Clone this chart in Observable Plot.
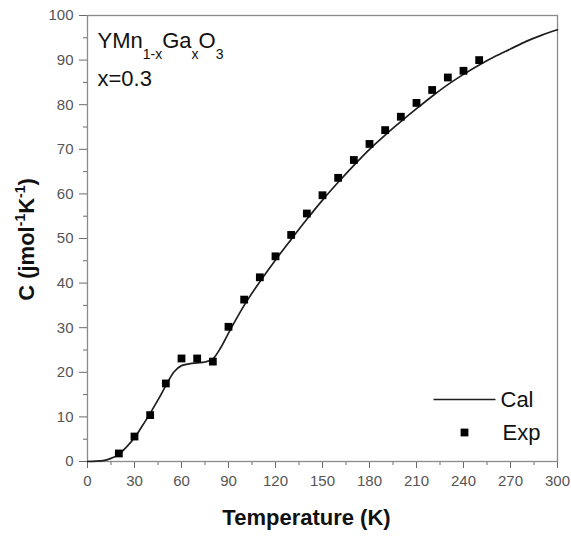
<!DOCTYPE html>
<html>
<head>
<meta charset="utf-8">
<script src="https://cdn.jsdelivr.net/npm/d3@7"></script>
<script src="https://cdn.jsdelivr.net/npm/@observablehq/plot@0.6"></script>
<style>
  html, body { margin: 0; padding: 0; background: #fff; }
</style>
</head>
<body>
<div id="chart"></div>
<script>
// Experimental points (Exp)
const expT = [20, 30, 40, 50, 60, 70, 80, 90, 100, 110, 120, 130, 140, 150, 160, 170, 180, 190, 200, 210, 220, 230, 240, 250];
const expC = [1.8, 5.6, 10.4, 17.5, 23.1, 23.1, 22.4, 30.2, 36.3, 41.3, 46.0, 50.8, 55.6, 59.7, 63.6, 67.6, 71.2, 74.3, 77.3, 80.4, 83.3, 86.1, 87.6, 90.0];

// Calculated curve (Cal)
const calT = [0, 10, 15, 20, 25, 30, 35, 40, 45, 50, 55, 60, 65, 70, 75, 80, 85, 90, 100, 110, 120, 130, 140, 150, 160, 170, 180, 190, 200, 210, 220, 230, 240, 250, 260, 270, 280, 290, 300];
const calC = [0, 0.2, 0.7, 1.6, 3.3, 5.3, 8.0, 10.8, 13.8, 17.0, 20.0, 21.5, 21.9, 22.1, 22.3, 23.0, 25.5, 28.8, 35.0, 40.3, 45.2, 49.8, 54.3, 58.6, 62.6, 66.4, 70.0, 73.2, 76.2, 79.1, 81.9, 84.5, 86.8, 88.9, 90.8, 92.5, 94.2, 95.6, 96.8];

// Tick values
const xTicks = [0, 30, 60, 90, 120, 150, 180, 210, 240, 270, 300];
const xMinor = [15, 45, 75, 105, 135, 165, 195, 225, 255, 285];
const yTicks = [0, 10, 20, 30, 40, 50, 60, 70, 80, 90, 100];
const yMinor = [5, 15, 25, 35, 45, 55, 65, 75, 85, 95];

// Texts
const xTitle = "Temperature (K)";
const yTitle = "C (jmol-1K-1)";
const compound = "YMn1-xGaxO3";
const composition = "x=0.3";
const legendNames = ["Cal", "Exp"];

const expData = expT.map((t, i) => ({t, c: expC[i]}));
const calData = calT.map((t, i) => ({t, c: calC[i]}));

const lineSymbol = {
  draw(ctx) { ctx.moveTo(-31, 0); ctx.lineTo(31, 0); }
};

const axisColor = "#6a6a6a";
const labelColor = "#555";

const chart = Plot.plot({
  width: 571,
  height: 536,
  marginLeft: 87,
  marginRight: 14,
  marginTop: 15,
  marginBottom: 75,
  style: {fontFamily: "'Liberation Sans', Arial, sans-serif", background: "#fff", overflow: "visible"},
  x: {domain: [0, 300]},
  y: {domain: [0, 100]},
  marks: [
    Plot.axisX({ticks: xTicks, tickSize: 7, tickPadding: 7, fontSize: 15, stroke: axisColor, fill: labelColor, label: null}),
    Plot.axisX({ticks: xMinor, tickSize: 4, text: null, stroke: axisColor, label: null}),
    Plot.axisY({ticks: yTicks, tickSize: 8, tickPadding: 6, fontSize: 15, stroke: axisColor, fill: labelColor, label: null}),
    Plot.axisY({ticks: yMinor, tickSize: 4, text: null, stroke: axisColor, label: null}),
    Plot.frame({stroke: "#8a8a8a", strokeWidth: 1.3}),
    Plot.line(calData, {x: "t", y: "c", curve: "monotone-x", stroke: "#1e1e1e", strokeWidth: 1.7}),
    Plot.dot(expData, {x: "t", y: "c", symbol: "square", r: 4.4, fill: "#000"}),
    // annotation
    Plot.text([compound], {frameAnchor: "top-left", dx: 10, dy: 17, textAnchor: "start", lineAnchor: "top", fontSize: 22, fill: "#111"}),
    Plot.text([composition], {frameAnchor: "top-left", dx: 10, dy: 55, textAnchor: "start", lineAnchor: "top", fontSize: 22, fill: "#111"}),
    // legend
    Plot.dot([legendNames[0]], {frameAnchor: "bottom-right", dx: -93, dy: -62, symbol: lineSymbol, stroke: "#1e1e1e", strokeWidth: 1.7, fill: "none"}),
    Plot.text([legendNames[0]], {frameAnchor: "bottom-right", dx: -57, dy: -62, textAnchor: "start", lineAnchor: "middle", fontSize: 22, fill: "#111"}),
    Plot.dot([legendNames[1]], {frameAnchor: "bottom-right", dx: -93, dy: -29, symbol: "square", r: 4.4, fill: "#000"}),
    Plot.text([legendNames[1]], {frameAnchor: "bottom-right", dx: -55, dy: -29, textAnchor: "start", lineAnchor: "middle", fontSize: 22, fill: "#111"}),
    // axis titles
    Plot.text([xTitle], {frameAnchor: "bottom", dx: -16, dy: 56, textAnchor: "middle", lineAnchor: "middle", fontSize: 22, fontWeight: "bold", fill: "#111"}),
    Plot.text([yTitle], {frameAnchor: "left", dx: -61, dy: 1, rotate: -90, textAnchor: "middle", lineAnchor: "middle", fontSize: 22, fontWeight: "bold", fill: "#111"})
  ]
});

// rich text: sub/superscripts
const svg = d3.select(chart);
svg.selectAll("text").filter(function() { return this.textContent === compound; })
  .html('YMn<tspan dy="11" font-size="14">1-x</tspan><tspan dy="-11">Ga</tspan><tspan dy="11" font-size="14">x</tspan><tspan dy="-11">O</tspan><tspan dy="11" font-size="14">3</tspan>');
svg.selectAll("text").filter(function() { return this.textContent === yTitle; })
  .html('C (jmol<tspan dy="-9" font-size="14">-1</tspan><tspan dy="9">K</tspan><tspan dy="-9" font-size="14">-1</tspan><tspan dy="9">)</tspan>');

document.getElementById("chart").appendChild(chart);
</script>
</body>
</html>
